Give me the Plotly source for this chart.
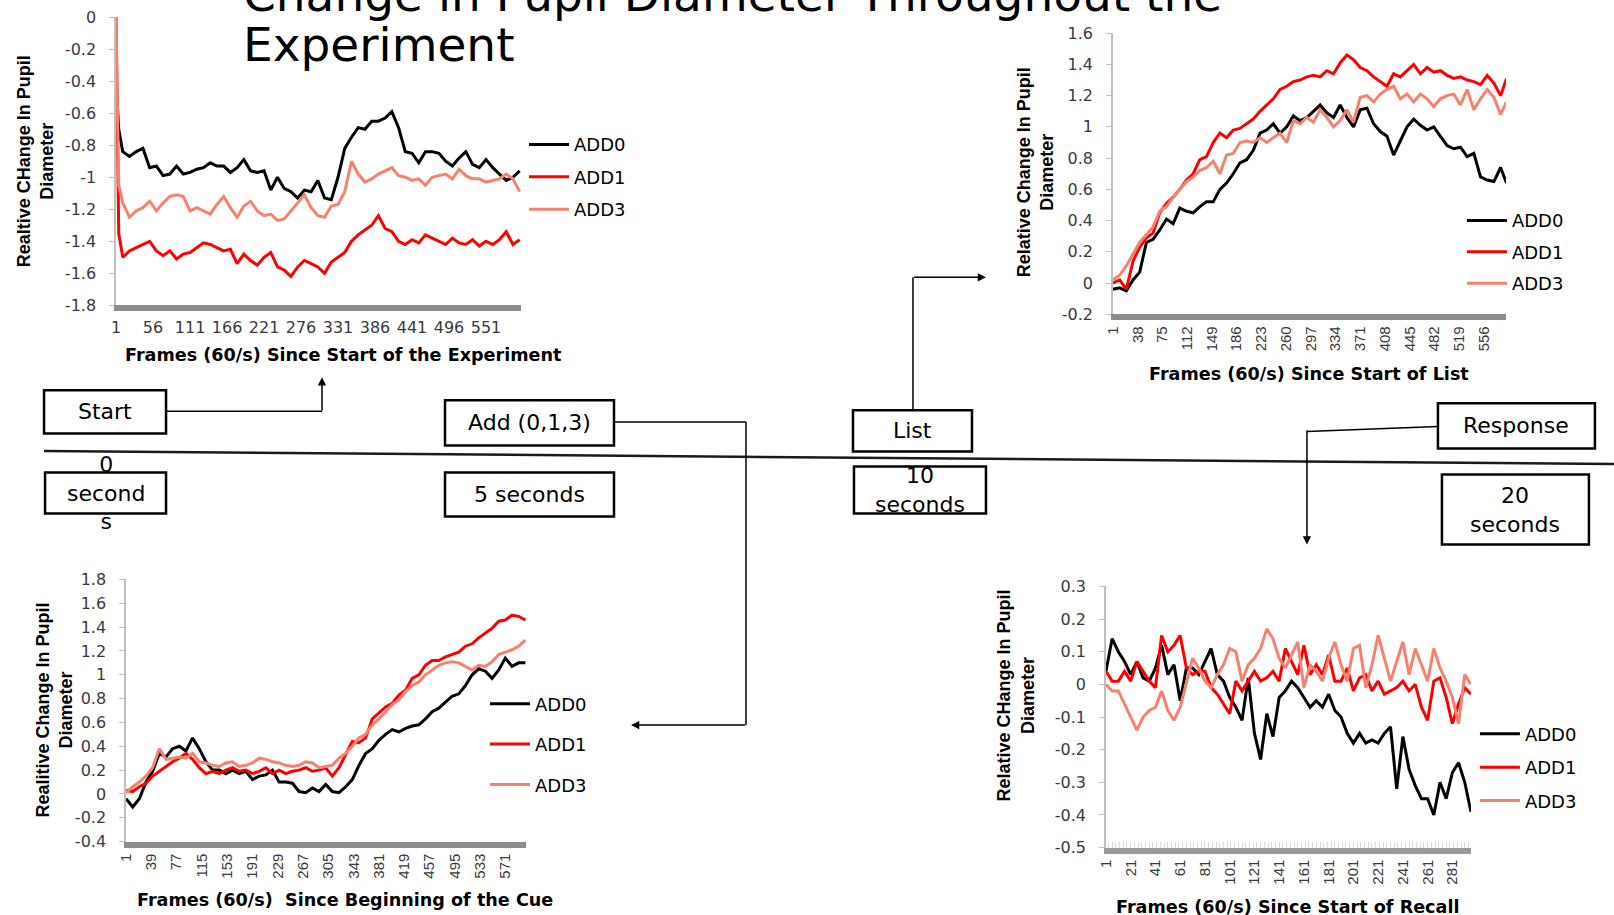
import plotly.graph_objects as go

# Page geometry: the figure sits inside an 8 px body margin and the photographed
# area is slightly larger than the window, so positions are pre-scaled.
BODY_MARGIN = 8
SX, SY = 0.9945, 0.979
FIG_W, FIG_H = 1615, 927

SERIES = ["ADD0", "ADD1", "ADD3"]
COLORS = ["#000000", "#FF0000", "#F8806F"]

# ---------------- Chart 1 : Frames since start of the experiment ----------------
c1_frames = [1, 5, 11, 21, 31, 41, 51, 61, 71, 81, 91, 101, 111, 121, 131, 141, 151, 161,
             171, 181, 191, 201, 211, 221, 231, 241, 251, 261, 271, 281, 291, 301, 311, 321,
             331, 341, 351, 361, 371, 381, 391, 401, 411, 421, 431, 441, 451, 461, 471, 481,
             491, 501, 511, 521, 531, 541, 551, 561, 571, 581, 591, 601]
c1_add0 = [-0.40, -0.70, -0.84, -0.87, -0.84, -0.82, -0.94, -0.93, -0.99, -0.98, -0.93, -0.98,
           -0.97, -0.95, -0.94, -0.91, -0.93, -0.93, -0.97, -0.94, -0.89, -0.96, -0.97, -0.96,
           -1.08, -1.00, -1.07, -1.09, -1.13, -1.08, -1.09, -1.02, -1.13, -1.14, -1.00, -0.82,
           -0.75, -0.69, -0.70, -0.65, -0.65, -0.63, -0.59, -0.69, -0.84, -0.85, -0.91, -0.84,
           -0.84, -0.85, -0.90, -0.93, -0.88, -0.84, -0.92, -0.94, -0.89, -0.94, -0.98, -1.02,
           -1.00, -0.96]
c1_add1 = [0.00, -1.35, -1.50, -1.46, -1.44, -1.42, -1.40, -1.46, -1.49, -1.46, -1.51, -1.48,
           -1.47, -1.44, -1.41, -1.42, -1.44, -1.46, -1.45, -1.54, -1.48, -1.52,
           -1.55, -1.50, -1.47, -1.56, -1.58, -1.62, -1.56, -1.52, -1.54, -1.56,
           -1.60, -1.53, -1.50, -1.47, -1.40, -1.36, -1.33, -1.30, -1.24, -1.32,
           -1.34, -1.40, -1.42, -1.39, -1.41, -1.36, -1.38, -1.40, -1.42, -1.38,
           -1.41, -1.42, -1.39, -1.43, -1.40, -1.42, -1.39, -1.34, -1.42, -1.39]
c1_add3 = [0.00, -1.05, -1.16, -1.25, -1.21, -1.19, -1.15, -1.21, -1.16, -1.12, -1.11, -1.12,
           -1.21, -1.19, -1.21, -1.23, -1.17, -1.12, -1.19, -1.25, -1.18, -1.15,
           -1.21, -1.24, -1.23, -1.27, -1.26, -1.21, -1.16, -1.11, -1.19, -1.24,
           -1.25, -1.18, -1.17, -1.09, -0.90, -0.98, -1.03, -1.01, -0.98, -0.96,
           -0.94, -0.99, -1.00, -1.02, -1.01, -1.05, -1.00, -0.99, -0.98, -1.01,
           -0.95, -0.99, -1.01, -1.01, -1.03, -1.02, -1.01, -0.98, -1.01, -1.09]
c1_xticks = [1, 56, 111, 166, 221, 276, 331, 386, 441, 496, 551]
c1_yticks = [0, -0.2, -0.4, -0.6, -0.8, -1, -1.2, -1.4, -1.6, -1.8]
c1_ylabels = ["0", "-0.2", "-0.4", "-0.6", "-0.8", "-1", "-1.2", "-1.4", "-1.6", "-1.8"]

# ---------------- Chart 2 : Frames since start of list ----------------
c2_frames = [1, 11, 21, 31, 41, 51, 61, 71, 81, 91, 101, 111, 121, 131, 141, 151, 161, 171,
             181, 191, 201, 211, 221, 231, 241, 251, 261, 271, 281, 291, 301, 311, 321, 331,
             341, 351, 361, 371, 381, 391, 401, 411, 421, 431, 441, 451, 461, 471, 481, 491,
             501, 511, 521, 531, 541, 551, 561, 571, 581, 590]
c2_add0 = [-0.04, -0.03, -0.05, 0.02, 0.07, 0.26, 0.28, 0.34, 0.41, 0.38,
           0.48, 0.46, 0.45, 0.49, 0.52, 0.52, 0.60, 0.64, 0.70, 0.77,
           0.79, 0.85, 0.96, 0.98, 1.02, 0.96, 1.00, 1.07, 1.04, 1.06,
           1.10, 1.14, 1.09, 1.06, 1.14, 1.06, 1.00, 1.11, 1.12, 1.02,
           0.97, 0.94, 0.82, 0.91, 1.00, 1.05, 1.01, 0.98, 1.00, 0.94,
           0.88, 0.86, 0.87, 0.81, 0.83, 0.68, 0.66, 0.65, 0.74, 0.64]
c2_add1 = [0.00, 0.02, -0.04, 0.14, 0.23, 0.29, 0.32, 0.45, 0.51, 0.55,
           0.60, 0.66, 0.70, 0.79, 0.81, 0.90, 0.96, 0.93, 0.98, 0.99,
           1.02, 1.05, 1.10, 1.14, 1.18, 1.24, 1.26, 1.29, 1.30, 1.32,
           1.33, 1.32, 1.36, 1.34, 1.41, 1.46, 1.43, 1.38, 1.36, 1.32,
           1.29, 1.26, 1.34, 1.32, 1.36, 1.40, 1.34, 1.38, 1.35, 1.36,
           1.33, 1.31, 1.32, 1.30, 1.29, 1.27, 1.33, 1.28, 1.20, 1.31]
c2_add3 = [0.02, 0.05, 0.11, 0.19, 0.26, 0.31, 0.36, 0.46, 0.49, 0.55,
           0.60, 0.65, 0.68, 0.72, 0.74, 0.78, 0.70, 0.82, 0.83, 0.90,
           0.91, 0.90, 0.93, 0.90, 0.93, 0.96, 0.90, 1.04, 1.02, 1.06,
           1.03, 1.11, 1.06, 1.00, 1.04, 1.11, 1.03, 1.19, 1.20, 1.16,
           1.21, 1.24, 1.26, 1.18, 1.21, 1.16, 1.21, 1.18, 1.13, 1.18,
           1.20, 1.21, 1.14, 1.24, 1.11, 1.18, 1.24, 1.19, 1.08, 1.16]
c2_xticks = [1, 38, 75, 112, 149, 186, 223, 260, 297, 334, 371, 408, 445, 482, 519, 556]
c2_yticks = [-0.2, 0, 0.2, 0.4, 0.6, 0.8, 1, 1.2, 1.4, 1.6]
c2_ylabels = ["-0.2", "0", "0.2", "0.4", "0.6", "0.8", "1", "1.2", "1.4", "1.6"]

# ---------------- Chart 3 : Frames since beginning of the cue ----------------
c3_frames = [1, 11, 21, 31, 41, 51, 61, 71, 81, 91, 101, 111, 121, 131, 141, 151, 161, 171,
             181, 191, 201, 211, 221, 231, 241, 251, 261, 271, 281, 291, 301, 311, 321, 331,
             341, 351, 361, 371, 381, 391, 401, 411, 421, 431, 441, 451, 461, 471, 481, 491,
             501, 511, 521, 531, 541, 551, 561, 571, 581, 591, 601]
c3_add0 = [-0.04, -0.11, -0.04, 0.10, 0.19, 0.34, 0.31, 0.38, 0.40, 0.36,
           0.47, 0.38, 0.27, 0.20, 0.20, 0.17, 0.20, 0.17, 0.19, 0.12,
           0.15, 0.16, 0.20, 0.10, 0.10, 0.09, 0.02, 0.01, 0.05, 0.02,
           0.08, 0.02, 0.01, 0.06, 0.12, 0.24, 0.34, 0.38, 0.45, 0.50,
           0.54, 0.52, 0.55, 0.57, 0.58, 0.63, 0.69, 0.72, 0.77, 0.82,
           0.84, 0.91, 1.00, 1.05, 1.03, 0.97, 1.04, 1.14, 1.07, 1.10, 1.10]
c3_add1 = [0.03, 0.02, 0.06, 0.09, 0.15, 0.19, 0.23, 0.27, 0.30, 0.34,
           0.29, 0.22, 0.17, 0.19, 0.17, 0.20, 0.22, 0.19, 0.20, 0.17,
           0.19, 0.22, 0.17, 0.20, 0.17, 0.19, 0.20, 0.22, 0.19, 0.20,
           0.22, 0.15, 0.22, 0.33, 0.44, 0.43, 0.47, 0.63, 0.68, 0.73,
           0.76, 0.83, 0.87, 0.97, 1.00, 1.08, 1.12, 1.12, 1.15, 1.17,
           1.19, 1.24, 1.26, 1.31, 1.35, 1.39, 1.45, 1.46, 1.50, 1.49, 1.46]
c3_add3 = [0.01, 0.06, 0.10, 0.15, 0.22, 0.38, 0.29, 0.30, 0.31, 0.30,
           0.34, 0.27, 0.26, 0.24, 0.23, 0.26, 0.27, 0.23, 0.24, 0.26,
           0.30, 0.29, 0.27, 0.26, 0.24, 0.23, 0.24, 0.27, 0.26, 0.22,
           0.23, 0.24, 0.30, 0.34, 0.40, 0.47, 0.50, 0.58, 0.63, 0.69,
           0.75, 0.79, 0.86, 0.91, 0.94, 1.00, 1.04, 1.08, 1.10, 1.11,
           1.10, 1.07, 1.04, 1.08, 1.07, 1.11, 1.17, 1.19, 1.21, 1.24, 1.29]
c3_xticks = [1, 39, 77, 115, 153, 191, 229, 267, 305, 343, 381, 419, 457, 495, 533, 571]
c3_yticks = [-0.4, -0.2, 0, 0.2, 0.4, 0.6, 0.8, 1, 1.2, 1.4, 1.6, 1.8]
c3_ylabels = ["-0.4", "-0.2", "0", "0.2", "0.4", "0.6", "0.8", "1", "1.2", "1.4", "1.6", "1.8"]

# ---------------- Chart 4 : Frames since start of recall ----------------
c4_frames = [1, 6, 11, 16, 21, 26, 31, 36, 41, 46, 51, 56, 61, 66, 71, 76, 81, 86, 91, 96,
             101, 106, 111, 116, 121, 126, 131, 136, 141, 146, 151, 156, 161, 166, 171, 176,
             181, 186, 191, 196, 201, 206, 211, 216, 221, 226, 231, 236, 241, 246, 251, 256,
             261, 266, 271, 276, 281, 286, 291, 296]
c4_add0 = [0.04, 0.14, 0.10, 0.07, 0.03, 0.07, 0.02, 0.01, 0.05, 0.12,
           0.03, 0.06, -0.05, 0.05, 0.05, 0.03, 0.07, 0.11, 0.03, 0.01,
           -0.04, -0.07, -0.11, 0.02, -0.15, -0.23, -0.09, -0.16, -0.04, -0.02,
           0.01, -0.01, -0.04, -0.07, -0.05, -0.07, -0.03, -0.08, -0.10, -0.15,
           -0.18, -0.15, -0.18, -0.17, -0.18, -0.15, -0.13, -0.32, -0.16, -0.26,
           -0.31, -0.35, -0.35, -0.40, -0.30, -0.35, -0.27, -0.24, -0.30, -0.39]
c4_add1 = [0.04, 0.01, 0.01, 0.04, 0.01, 0.07, 0.04, 0.01, -0.01, 0.15,
           0.10, 0.12, 0.15, 0.05, 0.03, 0.04, 0.04, -0.01, -0.03, -0.06,
           -0.09, 0.01, -0.02, 0.01, 0.04, 0.01, 0.02, 0.04, 0.01, 0.11,
           0.07, 0.03, 0.12, 0.03, 0.06, 0.03, 0.09, 0.01, 0.01, 0.05,
           -0.02, 0.02, 0.03, -0.02, 0.01, -0.03, -0.02, -0.01, 0.01, -0.02,
           0.00, -0.07, -0.11, 0.01, 0.02, -0.04, -0.12, -0.06, -0.01, -0.03]
c4_add3 = [0.00, -0.02, -0.02, -0.06, -0.10, -0.14, -0.10, -0.08, -0.07, -0.02,
           -0.08, -0.11, -0.07, 0.01, 0.08, 0.05, 0.01, -0.01, 0.03, 0.06,
           0.11, 0.10, 0.01, 0.06, 0.08, 0.11, 0.17, 0.14, 0.08, 0.05,
           0.09, 0.13, -0.01, 0.06, 0.04, 0.01, 0.08, 0.13, 0.06, 0.01,
           0.11, 0.12, -0.01, 0.06, 0.15, 0.08, 0.01, 0.07, 0.13, 0.03,
           0.11, 0.06, 0.01, 0.11, 0.05, 0.01, -0.04, -0.12, 0.03, 0.00]
c4_xticks = [1, 21, 41, 61, 81, 101, 121, 141, 161, 181, 201, 221, 241, 261, 281]
c4_yticks = [-0.5, -0.4, -0.3, -0.2, -0.1, 0, 0.1, 0.2, 0.3]
c4_ylabels = ["-0.5", "-0.4", "-0.3", "-0.2", "-0.1", "0", "0.1", "0.2", "0.3"]

# ---------------- layout helpers (target pixel -> paper) ----------------
def px(x):
    return (x / SX - BODY_MARGIN) / FIG_W


def py(y):
    return 1 - (y / SY - BODY_MARGIN) / FIG_H


TICK_H = dict(family="DejaVu Sans", size=16, color="#3a3a3a")
TICK_V = dict(family="Liberation Sans, Arial", size=15, color="#3a3a3a")

charts = [
    dict(frames=c1_frames, data=[c1_add0, c1_add1, c1_add3], xdom=(115, 520), ydom=(16, 304),
         xr=[1, 603], yr=[-1.8, 0], xt=c1_xticks, yt=c1_yticks, yl=c1_ylabels, angle=0,
         tfont=TICK_H, xstand=2, legend=(523, 125, 6), hatch=False),
    dict(frames=c2_frames, data=[c2_add0, c2_add1, c2_add3], xdom=(1112, 1505), ydom=(32, 313),
         xr=[1, 589], yr=[-0.2, 1.6], xt=c2_xticks, yt=c2_yticks, yl=c2_ylabels, angle=-90,
         tfont=TICK_V, xstand=0, legend=(1461, 201, 5), hatch=False),
    dict(frames=c3_frames, data=[c3_add0, c3_add1, c3_add3], xdom=(125, 525), ydom=(578, 840),
         xr=[1, 602], yr=[-0.4, 1.8], xt=c3_xticks, yt=c3_yticks, yl=c3_ylabels, angle=-90,
         tfont=TICK_V, xstand=0, legend=(484, 684, 14), hatch=False),
    dict(frames=c4_frames, data=[c4_add0, c4_add1, c4_add3], xdom=(1105, 1470), ydom=(585, 846),
         xr=[1, 296], yr=[-0.5, 0.3], xt=c4_xticks, yt=c4_yticks, yl=c4_ylabels, angle=-90,
         tfont=TICK_V, xstand=0, legend=(1474, 714, 7), hatch=True),
]

fig = go.Figure()
layout = dict(width=FIG_W, height=FIG_H, margin=dict(l=0, r=0, t=0, b=0),
              paper_bgcolor="white", plot_bgcolor="white", showlegend=True)

for i, ch in enumerate(charts, start=1):
    sfx = "" if i == 1 else str(i)
    xname, yname = "x" + sfx, "y" + sfx
    lname = "legend" + sfx
    for s, (name, col) in enumerate(zip(SERIES, COLORS)):
        fig.add_trace(go.Scatter(
            x=ch["frames"], y=ch["data"][s], mode="lines", name=name,
            line=dict(color=col, width=3), xaxis=xname, yaxis=yname,
            legend=lname, legendgroup=f"c{i}_{name}", hoverinfo="skip"))
    x0, x1 = ch["xdom"]
    y0, y1 = ch["ydom"]
    xax = dict(
        domain=[px(x0), px(x1)], range=ch["xr"], anchor=yname,
        tickmode="array", tickvals=ch["xt"], ticktext=[str(v) for v in ch["xt"]],
        tickangle=ch["angle"], tickfont=ch["tfont"], ticks="",
        ticklabelstandoff=ch["xstand"],
        showline=True, linecolor="#8C8C8C", linewidth=6,
        showgrid=False, zeroline=False, fixedrange=True)
    if ch["hatch"]:
        xax["linecolor"] = "#9A9A9A"
        xax["minor"] = dict(dtick=3, ticks="inside", ticklen=6, tickwidth=1.2,
                            tickcolor="#D8D8D8", showgrid=False)
    layout["xaxis" + sfx] = xax
    layout["yaxis" + sfx] = dict(
        domain=[py(y1), py(y0)], range=ch["yr"], anchor=xname,
        tickmode="array", tickvals=ch["yt"], ticktext=ch["yl"],
        tickfont=TICK_H, ticks="outside", ticklen=5, tickcolor="#BFBFBF",
        ticklabelstandoff=10,
        showline=True, linecolor="#BFBFBF", linewidth=1.5,
        showgrid=False, zeroline=False, fixedrange=True)
    lx, ly, gap = ch["legend"]
    layout[lname] = dict(x=px(lx), y=py(ly), xanchor="left", yanchor="top",
                         font=dict(family="DejaVu Sans", size=18, color="#000000"),
                         bgcolor="rgba(0,0,0,0)", borderwidth=0,
                         tracegroupgap=gap, itemwidth=40, traceorder="grouped")

fig.update_layout(**layout)

# ---------------- text annotations ----------------
ann = []
TITLE_FONT = dict(family="DejaVu Sans", size=47, color="#000000")
ann.append(dict(text="Change in Pupil Diameter Throughout the", x=px(240), y=py(23),
                xanchor="left", yanchor="bottom", font=TITLE_FONT))
ann.append(dict(text="Experiment", x=px(240), y=py(73),
                xanchor="left", yanchor="bottom", font=TITLE_FONT))

XT_FONT = dict(family="DejaVu Sans", size=17.6, color="#000000")
YT_FONT = dict(family="Liberation Sans, Arial", size=18, color="#000000")
x_titles = [
    ("<b>Frames (60/s) Since Start of the Experiment</b>", 342, 354),
    ("<b>Frames (60/s) Since Start of List</b>", 1308, 373),
    ("<b>Frames (60/s) \u00a0Since Beginning of the Cue</b>", 344, 898),
    ("<b>Frames (60/s) Since Start of Recall</b>", 1287, 905),
]
for t, x, y in x_titles:
    ann.append(dict(text=t, x=px(x), y=py(y), xanchor="center", yanchor="middle", font=XT_FONT))

y_titles = [
    ("<b>Realtive CHange In Pupil<br>Diameter</b>", 34, 160),
    ("<b>Relative Change In Pupil<br>Diameter</b>", 1034, 171),
    ("<b>Realitive Change In Pupil<br>Diameter</b>", 53, 709),
    ("<b>Relative CHange In Pupil<br>Diameter</b>", 1015, 694),
]
for t, x, y in y_titles:
    ann.append(dict(text=t, x=px(x), y=py(y), xanchor="center", yanchor="middle",
                    textangle=-90, font=YT_FONT))

# ---------------- timeline boxes ----------------
BOX_FONT = dict(family="DejaVu Sans", size=22, color="#000000")
boxes = [
    ("Start", (43, 389, 165, 432), 410),
    ("Add (0,1,3)", (444, 399, 613, 444), 421),
    ("List", (852, 409, 971, 450), 429),
    ("Response", (1437, 402, 1594, 447), 424),
    ("0<br>second<br>s", (44, 471, 165, 512), 492),
    ("5 seconds", (444, 471, 613, 515), 493),
    ("10<br>seconds", (853, 465, 985, 512), 489),
    ("20<br>seconds", (1441, 473, 1588, 543), 509),
]
shapes = []
# timeline
shapes.append(dict(type="line", xref="paper", yref="paper", x0=px(43), y0=py(449.5),
                   x1=px(1614), y1=py(462.7), line=dict(color="#1a1a1a", width=2.5)))
for label, (bx0, by0, bx1, by1), ty in boxes:
    shapes.append(dict(type="rect", xref="paper", yref="paper", x0=px(bx0), y0=py(by1),
                       x1=px(bx1), y1=py(by0), line=dict(color="#000000", width=2.5),
                       fillcolor="white", layer="above"))
    ann.append(dict(text=label, x=px((bx0 + bx1) / 2), y=py(ty), xanchor="center",
                    yanchor="middle", font=BOX_FONT, showarrow=False))

# connectors
CONN = dict(color="#000000", width=1.5)
conn_segments = [
    (165, 410, 321, 410),
    (613, 420.5, 745, 420.5),
    (745, 420.5, 745, 723.5),
    (912, 409, 912, 276),
    (1437, 425, 1306, 430),
]
for a, b, c, d in conn_segments:
    shapes.append(dict(type="line", xref="paper", yref="paper", x0=px(a), y0=py(b),
                       x1=px(c), y1=py(d), line=CONN))
arrows = [
    (321, 376, 0, 34),
    (630, 723.5, 115, 0),
    (985, 276, -73, 0),
    (1306, 543, 0, -113),
]
for x, y, ax, ay in arrows:
    ann.append(dict(text="", x=px(x), y=py(y), xref="paper", yref="paper",
                    ax=ax / SX, ay=ay / SY,
                    showarrow=True, arrowhead=2, arrowsize=1.1, arrowwidth=1.5,
                    arrowcolor="#000000"))

for a in ann:
    a.setdefault("xref", "paper")
    a.setdefault("yref", "paper")
    a.setdefault("showarrow", False)

fig.update_layout(annotations=ann, shapes=shapes)
fig.write_html("out.html")
